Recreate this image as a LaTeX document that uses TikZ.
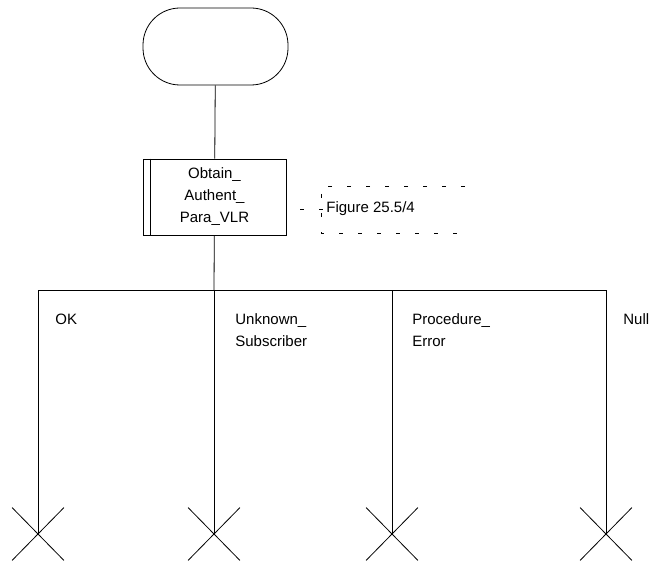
\documentclass[tikz,border=0pt]{standalone}
\usepackage{fontspec}
\setmainfont{Liberation Sans}
\usetikzlibrary{shapes.misc}

\tikzset{
  term/.style={draw,rounded corners=37pt,minimum width=145pt,minimum height=77pt},
  proc/.style={draw,minimum width=143pt,minimum height=76pt,align=center,inner sep=0pt},
  lbl/.style={anchor=west,align=left,inner sep=0pt},
  stop/.style={draw,cross out,minimum width=51pt,minimum height=52pt,inner sep=0pt},
  cmt/.style={dash pattern=on 4pt off 15pt},
}

\begin{document}
\begin{tikzpicture}[x=1pt,y=-1pt,line width=0.8pt,font=\fontsize{15}{22}\selectfont]
      \useasboundingbox (0,0) rectangle (658,564);

      \node[term] (start) at (215.5,46.5) {};
      \node[proc] (obtain) at (214.5,197) {Obtain\_\\Authent\_\\Para\_VLR};
      \draw ([xshift=8pt]obtain.north west) -- ([xshift=8pt]obtain.south west);

      % comment
      \node[lbl] (fig) at (326,209) {Figure 25.5/4};
      \draw[cmt] (465,186) -- (321,186) -- (321,233) -- (465,233);
      \draw[cmt,dash phase=5pt] (obtain.east |- fig.west) -- (fig.west);

      \coordinate (split) at (214,290);
      \coordinate (b1) at ( 38,290);
      \coordinate (b2) at (214,290);
      \coordinate (b3) at (392,290);
      \coordinate (b4) at (606,290);

      \node[stop] (x1) at ( 38,534) {};
      \node[stop] (x2) at (214,534) {};
      \node[stop] (x3) at (392,534) {};
      \node[stop] (x4) at (606,534) {};

      \node[lbl] (ok)   at ( 55,319) {OK};
      \node[lbl] (unkn) at (235,330) {Unknown\_\\Subscriber};
      \node[lbl] (perr) at (412,330) {Procedure\_\\Error};
      \node[lbl] (null) at (623,319) {Null};

      \draw (start) -- (obtain);
      \draw (obtain) -- (split);
      \draw (b1) -- (b4);
      \draw (b1) -- (x1.center);
      \draw (b2) -- (x2.center);
      \draw (b3) -- (x3.center);
      \draw (b4) -- (x4.center);
    \end{tikzpicture}
\end{document}
